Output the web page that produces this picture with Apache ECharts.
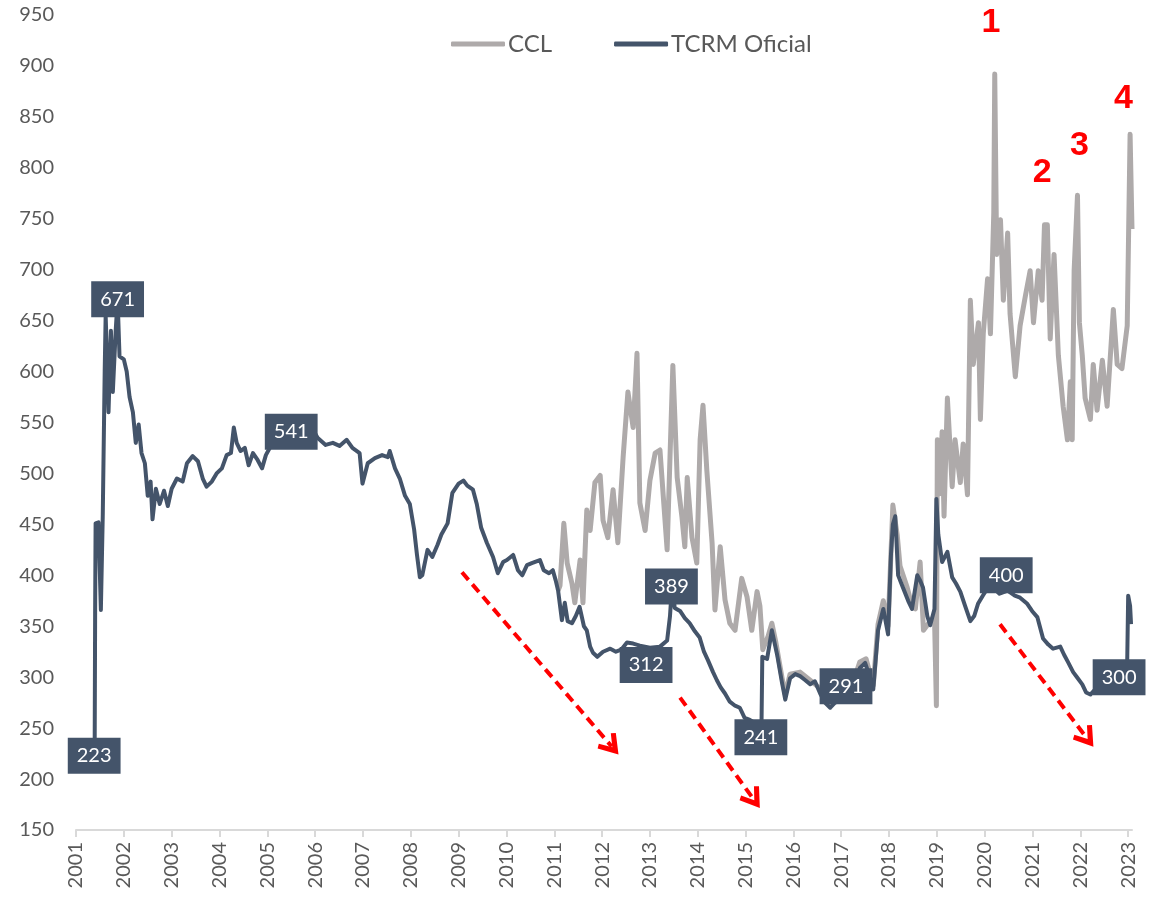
<!DOCTYPE html>
<html>
<head>
<meta charset="utf-8">
<script src="https://cdn.jsdelivr.net/npm/echarts@6/dist/echarts.min.js"></script>
<style>
  html, body { margin: 0; padding: 0; background: #fff; }
  #chart { width: 1152px; height: 904px; }
</style>
</head>
<body>
<div id="chart"></div>
<script>
// tipo de cambio real multilateral oficial [año, valor]
var tcrm = [
  [2001.39, 223], [2001.40, 363], [2001.41, 451], [2001.47, 452], [2001.52, 366], [2001.56, 460],
  [2001.60, 600], [2001.62, 655], [2001.65, 610], [2001.68, 560], [2001.73, 640], [2001.77, 580],
  [2001.83, 640], [2001.87, 671], [2001.91, 615], [2002.00, 612], [2002.06, 600], [2002.12, 575],
  [2002.19, 560], [2002.25, 530], [2002.31, 548], [2002.37, 520], [2002.44, 510], [2002.50, 478],
  [2002.56, 492], [2002.60, 455], [2002.67, 485], [2002.75, 470], [2002.84, 483], [2002.92, 468],
  [2003.00, 485], [2003.11, 495], [2003.23, 492], [2003.32, 510], [2003.44, 517], [2003.55, 512],
  [2003.65, 495], [2003.73, 487], [2003.84, 492], [2003.94, 500], [2004.05, 505], [2004.15, 518],
  [2004.24, 520], [2004.30, 545], [2004.36, 530], [2004.44, 522], [2004.53, 525], [2004.61, 508],
  [2004.70, 520], [2004.80, 513], [2004.89, 505], [2004.97, 518], [2005.05, 525], [2005.18, 532],
  [2005.30, 528], [2005.47, 535], [2005.64, 530], [2005.80, 540], [2005.93, 545], [2006.05, 535],
  [2006.22, 528], [2006.37, 530], [2006.51, 527], [2006.66, 533], [2006.78, 525], [2006.93, 520],
  [2006.99, 490], [2007.10, 510], [2007.25, 515], [2007.40, 518], [2007.52, 516], [2007.56, 522],
  [2007.67, 505], [2007.77, 495], [2007.88, 478], [2007.98, 470], [2008.07, 445], [2008.13, 420],
  [2008.19, 398], [2008.24, 400], [2008.35, 425], [2008.45, 418], [2008.56, 430], [2008.64, 440],
  [2008.77, 451], [2008.87, 481], [2009.00, 490], [2009.10, 493], [2009.18, 488], [2009.30, 484],
  [2009.38, 470], [2009.47, 447], [2009.59, 432], [2009.72, 418], [2009.82, 402], [2009.93, 413],
  [2010.01, 415], [2010.14, 420], [2010.24, 405], [2010.33, 400], [2010.43, 410], [2010.53, 412],
  [2010.70, 415], [2010.78, 405], [2010.89, 402], [2010.97, 405], [2011.03, 395], [2011.08, 385],
  [2011.16, 356], [2011.22, 373], [2011.28, 355], [2011.37, 353], [2011.45, 360], [2011.53, 369],
  [2011.62, 350], [2011.68, 346], [2011.75, 330], [2011.81, 324], [2011.90, 320], [2012.02, 325],
  [2012.17, 328], [2012.29, 325], [2012.40, 327], [2012.52, 334], [2012.65, 333], [2012.79, 331],
  [2013.00, 329], [2013.21, 330], [2013.36, 336], [2013.42, 360], [2013.46, 389], [2013.52, 368],
  [2013.63, 365], [2013.73, 358], [2013.83, 353], [2013.94, 345], [2014.04, 339], [2014.13, 325],
  [2014.21, 317], [2014.32, 305], [2014.40, 297], [2014.48, 290], [2014.57, 284], [2014.67, 276],
  [2014.78, 272], [2014.88, 270], [2014.98, 260], [2015.09, 258], [2015.19, 255], [2015.30, 255],
  [2015.33, 241], [2015.35, 320], [2015.45, 318], [2015.55, 346], [2015.66, 322], [2015.76, 295],
  [2015.83, 278], [2015.93, 299], [2016.04, 303], [2016.14, 301], [2016.25, 297], [2016.35, 293],
  [2016.45, 296], [2016.56, 284], [2016.66, 275], [2016.77, 270], [2016.87, 275], [2016.98, 278],
  [2017.12, 280], [2017.25, 288], [2017.39, 309], [2017.50, 314], [2017.60, 300], [2017.67, 288],
  [2017.77, 346], [2017.88, 367], [2017.98, 342], [2018.04, 420], [2018.08, 450], [2018.13, 458],
  [2018.19, 400], [2018.29, 388], [2018.40, 375], [2018.48, 367], [2018.59, 400], [2018.65, 395],
  [2018.71, 388], [2018.80, 360], [2018.86, 351], [2018.95, 367], [2018.99, 475], [2019.03, 440],
  [2019.11, 413], [2019.22, 423], [2019.32, 398], [2019.40, 392], [2019.49, 384], [2019.59, 370],
  [2019.70, 355], [2019.78, 360], [2019.86, 372], [2019.96, 380], [2020.04, 386], [2020.17, 388],
  [2020.31, 382], [2020.48, 385], [2020.63, 380], [2020.74, 378], [2020.89, 372], [2020.99, 365],
  [2021.10, 359], [2021.22, 338], [2021.33, 332], [2021.43, 328], [2021.58, 330], [2021.66, 322],
  [2021.74, 315], [2021.85, 305], [2021.93, 300], [2022.04, 293], [2022.12, 285], [2022.21, 283],
  [2022.31, 288], [2022.42, 292], [2022.54, 295], [2022.67, 297], [2022.81, 300], [2022.94, 305],
  [2022.98, 315], [2023.00, 380], [2023.04, 370], [2023.06, 352]
];

// contado con liquidación [año, valor]
var ccl = [
  [2011.08, 385], [2011.12, 390], [2011.20, 451], [2011.27, 412], [2011.37, 392], [2011.43, 373],
  [2011.54, 415], [2011.60, 373], [2011.68, 464], [2011.75, 444], [2011.85, 491], [2011.96, 498],
  [2012.02, 454], [2012.12, 437], [2012.23, 484], [2012.33, 432], [2012.44, 516], [2012.54, 580],
  [2012.65, 545], [2012.73, 618], [2012.79, 471], [2012.90, 444], [2013.00, 493], [2013.11, 520],
  [2013.21, 523], [2013.36, 425], [2013.42, 516], [2013.48, 606], [2013.57, 496], [2013.67, 457],
  [2013.73, 428], [2013.78, 496], [2013.88, 437], [2013.98, 412], [2014.05, 533], [2014.11, 567],
  [2014.19, 503], [2014.30, 432], [2014.36, 366], [2014.47, 428], [2014.57, 376], [2014.67, 353],
  [2014.78, 346], [2014.92, 397], [2015.03, 379], [2015.13, 346], [2015.24, 384], [2015.30, 370],
  [2015.36, 327], [2015.47, 340], [2015.55, 353], [2015.63, 335], [2015.76, 300], [2015.83, 283],
  [2015.93, 303], [2016.14, 305], [2016.35, 297], [2016.56, 289], [2016.77, 274], [2016.98, 283],
  [2017.19, 287], [2017.39, 315], [2017.52, 318], [2017.67, 292], [2017.77, 352], [2017.88, 375],
  [2017.98, 350], [2018.08, 469], [2018.17, 440], [2018.23, 409], [2018.38, 388], [2018.48, 370],
  [2018.55, 367], [2018.65, 413], [2018.72, 346], [2018.86, 355], [2018.95, 360], [2018.99, 272],
  [2019.01, 533], [2019.06, 480], [2019.11, 541], [2019.15, 458], [2019.22, 574], [2019.32, 487],
  [2019.38, 533], [2019.49, 491], [2019.55, 529], [2019.64, 479], [2019.70, 670], [2019.76, 607],
  [2019.87, 648], [2019.91, 553], [2019.97, 637], [2020.06, 691], [2020.12, 637], [2020.19, 756],
  [2020.21, 892], [2020.25, 715], [2020.33, 749], [2020.39, 670], [2020.48, 736], [2020.53, 657],
  [2020.64, 595], [2020.74, 645], [2020.85, 674], [2020.95, 699], [2021.02, 648], [2021.12, 699],
  [2021.20, 670], [2021.25, 744], [2021.31, 744], [2021.37, 632], [2021.45, 715], [2021.54, 616],
  [2021.64, 566], [2021.73, 533], [2021.79, 590], [2021.83, 533], [2021.87, 699], [2021.94, 773],
  [2021.98, 648], [2022.04, 616], [2022.10, 574], [2022.21, 553], [2022.27, 607], [2022.35, 562],
  [2022.46, 611], [2022.56, 566], [2022.69, 661], [2022.77, 607], [2022.87, 603], [2022.98, 645],
  [2023.04, 833], [2023.08, 740]
];

// etiquetas destacadas sobre la serie oficial
var etiquetas = [
  [2001.38, 223], [2001.87, 671], [2005.50, 541], [2012.92, 312], [2013.45, 389],
  [2015.32, 241], [2017.10, 291], [2020.45, 400], [2022.81, 300]
];

// numeración de picos del CCL
var picos = [
  [2020.13, 943, '1'], [2021.20, 795, '2'], [2021.98, 822, '3'], [2022.90, 868, '4']
];

// flechas de tendencia [desde, hasta]
var flechas = [
  [[2009.07, 403], [2012.20, 232]],
  [[2013.63, 280], [2015.17, 180]],
  [[2020.32, 352], [2022.14, 240]]
];

var anios = [];
for (var a = 2001; a <= 2023; a++) anios.push(a);

// punta de flecha abierta
var chevron = 'path://M5,0 L10,8 L8.3,9.3 L5,4.2 L1.7,9.3 L0,8 Z';

var myChart = echarts.init(document.getElementById('chart'));
var option = {
  animation: false,
  textStyle: { fontFamily: 'Lato, sans-serif' },
  grid: { left: 76, right: 20, top: 15, bottom: 74, outerBoundsMode: 'none' },
  legend: {
    data: ['CCL', 'TCRM Oficial'],
    left: 446,
    top: 27,
    icon: 'roundRect',
    itemWidth: 54,
    itemHeight: 5,
    itemGap: 62,
    textStyle: { fontSize: 24, color: '#595959', padding: [0, 0, 0, -2] }
  },
  xAxis: {
    type: 'value',
    min: 2001,
    max: 2023.08,
    axisLine: { lineStyle: { color: '#D9D9D9', width: 2 } },
    axisTick: { show: true, length: 7, lineStyle: { color: '#D9D9D9', width: 2 }, customValues: anios },
    axisLabel: {
      rotate: 90,
      margin: 12,
      fontSize: 20,
      color: '#595959',
      customValues: anios,
      formatter: function (v) { return String(v); }
    },
    splitLine: { show: false }
  },
  yAxis: {
    type: 'value',
    min: 150,
    max: 950,
    interval: 50,
    axisLine: { show: false },
    axisTick: { show: false },
    splitLine: { show: false },
    axisLabel: { fontSize: 20, color: '#595959', margin: 22 }
  },
  series: [
    {
      name: 'CCL',
      type: 'line',
      data: ccl,
      showSymbol: false,
      color: '#AEAAAA',
      lineStyle: { width: 5, color: '#AEAAAA', join: 'round' },
      z: 2
    },
    {
      name: 'TCRM Oficial',
      type: 'line',
      data: tcrm,
      showSymbol: false,
      color: '#44546A',
      lineStyle: { width: 4, color: '#44546A', join: 'round' },
      z: 3,
      markLine: {
        silent: true,
        symbol: ['none', 'arrow'],
        symbolSize: 16,
        label: { show: false },
        lineStyle: { color: '#FF0000', width: 4, type: [10, 6], opacity: 1 },
        data: flechas.map(function (f) {
          return [
            { coord: f[0], symbol: 'none' },
            { coord: f[1], symbol: chevron, symbolSize: [24, 21] }
          ];
        })
      }
    },
    {
      name: 'etiquetas',
      type: 'scatter',
      data: etiquetas,
      symbolSize: 1,
      itemStyle: { opacity: 1, color: '#44546A' },
      z: 5,
      label: {
        show: true,
        position: 'inside',
        formatter: function (p) { return p.value[1]; },
        color: '#FFFFFF',
        fontSize: 20,
        lineHeight: 22,
        backgroundColor: '#44546A',
        padding: [7, 9, 7, 9]
      }
    },
    {
      name: 'picos',
      type: 'scatter',
      data: picos,
      symbolSize: 1,
      itemStyle: { opacity: 1, color: 'rgba(0,0,0,0)' },
      z: 5,
      label: {
        show: true,
        position: 'inside',
        formatter: function (p) { return p.value[2]; },
        color: '#FF0000',
        fontSize: 34,
        fontWeight: 'bold',
        fontFamily: 'Liberation Sans, sans-serif'
      }
    }
  ]
};
myChart.setOption(option);
</script>
</body>
</html>
